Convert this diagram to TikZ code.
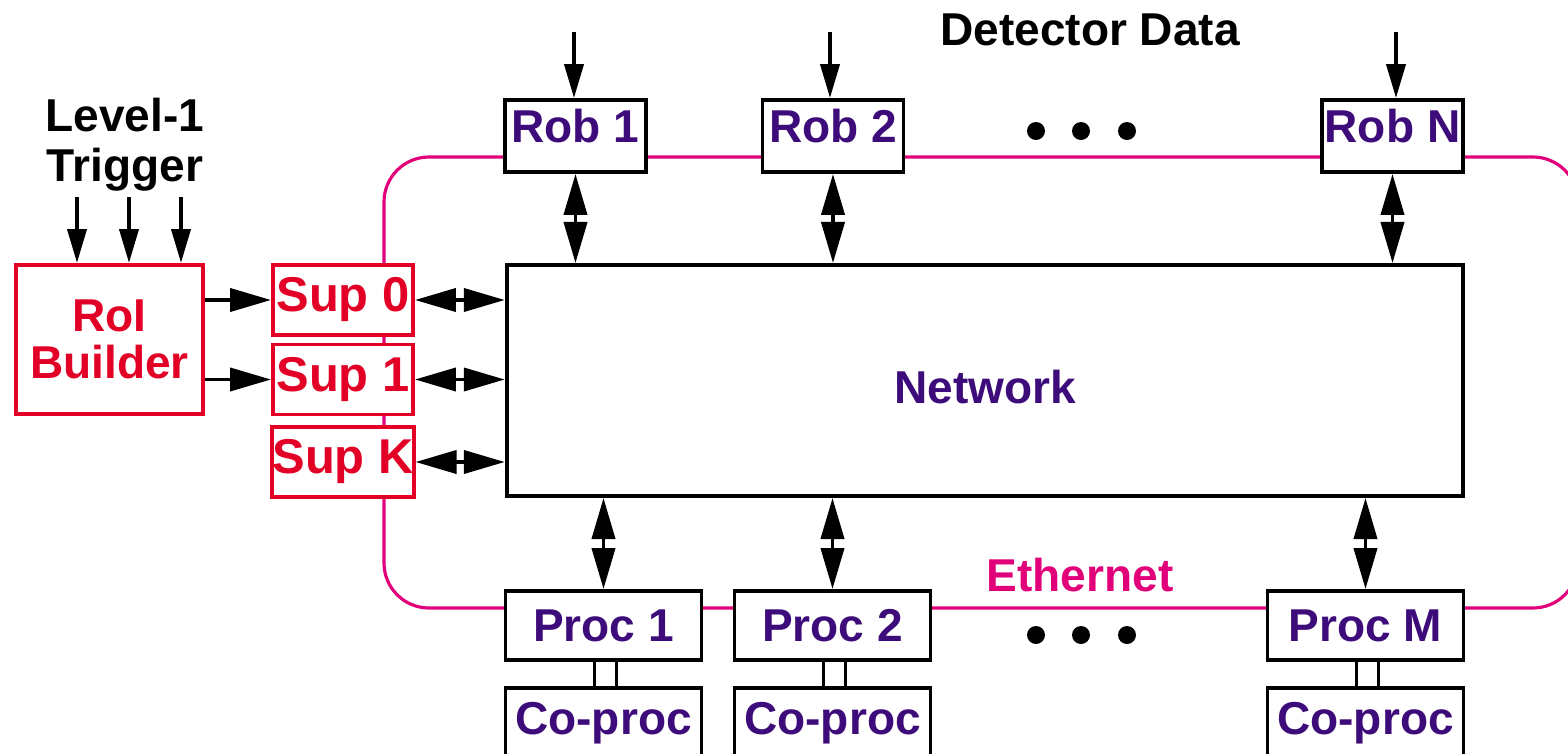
\documentclass[tikz,border=0pt]{standalone}
\usepackage{fontspec}
\setmainfont{Liberation Sans}
\usetikzlibrary{positioning,arrows.meta}

\definecolor{roired}{RGB}{226,0,38}
\definecolor{robpurple}{RGB}{62,12,122}
\definecolor{ethmagenta}{RGB}{226,0,122}

\begin{document}
\begin{tikzpicture}[x=0.01cm, y=-0.01cm, line width=1.1pt,
  box/.style={draw, fill=white, inner sep=0pt, text=robpurple,
    font=\fontsize{13.1pt}{13.5pt}\selectfont\bfseries},
  sup/.style={box, draw=roired, text=roired, minimum width=1.4cm, minimum height=0.7cm,
    font=\fontsize{13.9pt}{15pt}\selectfont\bfseries},
  rob/.style={box, minimum width=1.41cm, minimum height=0.72cm, text height=0.33cm, text depth=0.2cm},
  proc/.style={box, minimum width=1.96cm, minimum height=0.69cm},
  coproc/.style={proc, minimum height=0.76cm, text height=0.33cm, text depth=0.15cm},
  feed/.style={-{Triangle[length=0.34cm,width=0.19cm]}, line width=1.1pt},
  link/.style={-{Triangle[length=0.41cm,width=0.23cm]}, line width=1.1pt},
  bus/.style={{Triangle[length=0.41cm,width=0.23cm]}-{Triangle[length=0.41cm,width=0.23cm]}, line width=1.1pt},
  ether/.style={draw=ethmagenta, line width=0.9pt, rounded corners=0.45cm},
  title/.style={font=\fontsize{13.1pt}{14.2pt}\selectfont\bfseries, align=center}]

  \useasboundingbox (0,0) rectangle (1568,754);
  \clip (0,0) rectangle (1568,754);

  % ethernet loop, boxes sit on top of it
  \draw[ether] (384,157) rectangle (1578,608);

  \node[box, draw=roired, text=roired, minimum width=1.87cm, minimum height=1.49cm, align=center]
    (roi) at (109.5,339.5) {RoI\\Builder};
  \node[sup] (sup0) at (343,300) {Sup 0};
  \node[sup] (sup1) at (343,379.5) {Sup 1};
  \node[sup] (supK) at (343,462) {Sup K};

  \node[box, minimum width=9.56cm, minimum height=2.31cm, text height=0.47cm] (net) at (985,380.5) {Network};

  \node[rob] (rob1) at (575.5,136) {Rob 1};
  \node[rob] (rob2) at (833,136) {Rob 2};
  \node[rob] (robN) at (1392.5,136) {Rob N};

  \node[proc] (proc1) at (603.5,625.5) {Proc 1};
  \node[proc] (proc2) at (832.5,625.5) {Proc 2};
  \node[proc] (procM) at (1365.5,625.5) {Proc M};
  \foreach \i in {1,2,M} {
    \node[coproc, below=0.24cm of proc\i] (cop\i) {Co-proc};
    \draw[line width=0.7pt] ([xshift=-0.09cm]proc\i.south) -- ([xshift=-0.09cm]cop\i.north);
    \draw[line width=0.7pt] ([xshift=0.13cm]proc\i.south) -- ([xshift=0.13cm]cop\i.north);
  }

  \node[title] (trig) at (125,145) {Level-1\\Trigger};
  \node[title] (det) at (1090,30) {Detector Data};
  \node[title, text=ethmagenta] (eth) at (1080,575) {Ethernet};

  \foreach \x [count=\i] in {77,129,181} {
    \coordinate (trig\i) at (\x,197);
    \draw[feed] (trig\i) -- (trig\i |- roi.north);
  }
  \foreach \r/\x in {rob1/574,rob2/830,robN/1396} {
    \coordinate (det-\r) at (\x,32);
    \draw[feed] (det-\r) -- (det-\r |- \r.north);
  }

  \draw[link] (sup0.west -| roi.east) -- (sup0.west);
  \draw[link] (sup1.west -| roi.east) -- (sup1.west);
  \foreach \s in {sup0,sup1,supK}
    \draw[bus] (\s.east) -- (\s.east -| net.west);
  \foreach \r in {rob1,rob2,robN}
    \draw[bus] (\r.south) -- (\r.south |- net.north);
  \foreach \p in {proc1,proc2,procM}
    \draw[bus] (\p.north |- net.south) -- (\p.north);

  % dots
  \foreach \x in {1036,1081,1127} {
    \fill (\x,131) circle (9);
    \fill (\x,635) circle (9);
  }
\end{tikzpicture}
\end{document}
